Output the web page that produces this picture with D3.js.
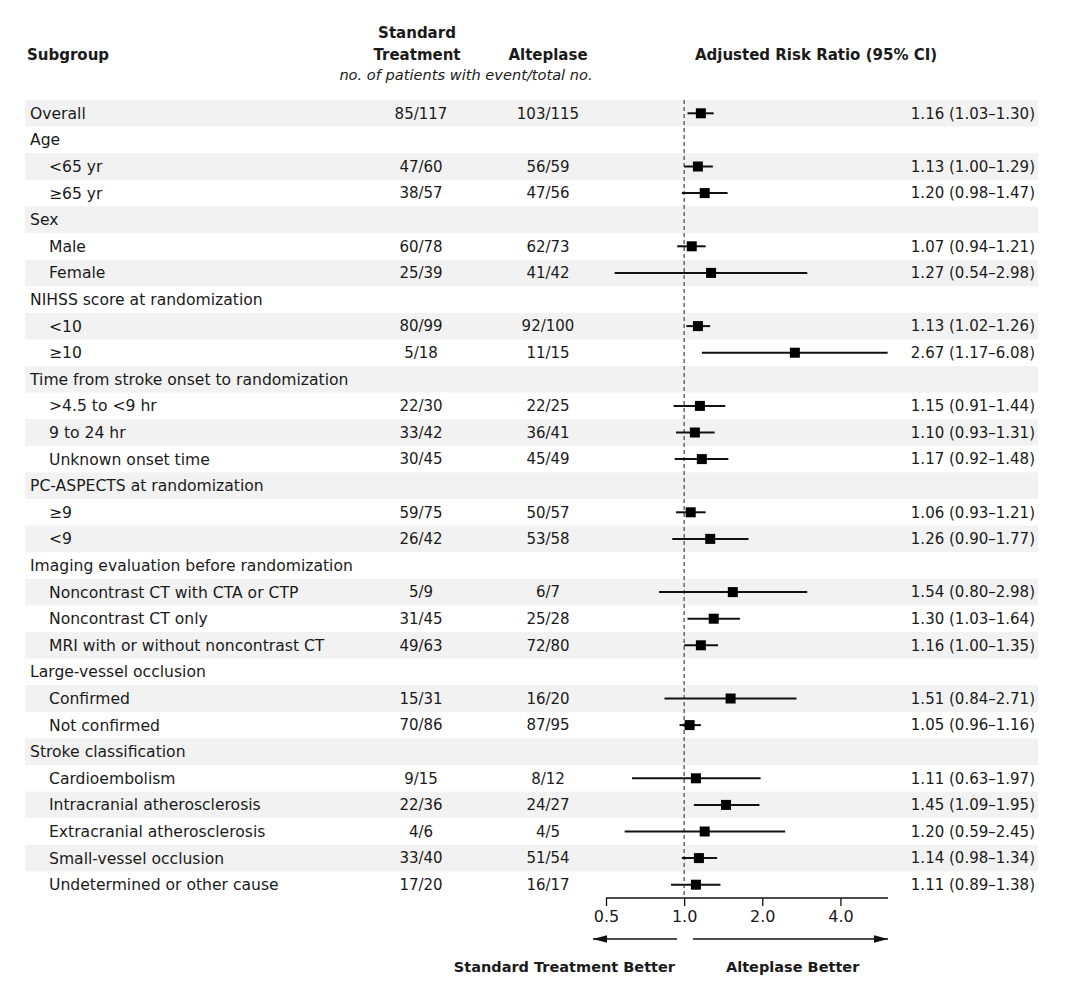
<!DOCTYPE html>
<html>
<head>
<meta charset="utf-8">
<script src="https://cdn.jsdelivr.net/npm/d3@7"></script>
<style>
  body { margin: 0; background: #fff; }
  text { font-family: "DejaVu Sans", sans-serif; fill: #1a1a1a; }
</style>
</head>
<body>
<div id="dataChart"></div>
<script>
// rows of the forest plot, top to bottom
const labels = [
    'Overall', 'Age', '<65 yr', '≥65 yr', 'Sex', 'Male', 'Female',
    'NIHSS score at randomization', '<10', '≥10',
    'Time from stroke onset to randomization', '>4.5 to <9 hr', '9 to 24 hr', 'Unknown onset time',
    'PC-ASPECTS at randomization', '≥9', '<9',
    'Imaging evaluation before randomization', 'Noncontrast CT with CTA or CTP', 'Noncontrast CT only', 'MRI with or without noncontrast CT',
    'Large-vessel occlusion', 'Confirmed', 'Not confirmed',
    'Stroke classification', 'Cardioembolism', 'Intracranial atherosclerosis', 'Extracranial atherosclerosis', 'Small-vessel occlusion', 'Undetermined or other cause'
];
const indented = [false, false, true, true, false, true, true, false, true, true, false, true, true, true,
    false, true, true, false, true, true, true, false, true, true, false, true, true, true, true, true];
const standard = ['85/117', '', '47/60', '38/57', '', '60/78', '25/39', '', '80/99', '5/18', '', '22/30', '33/42', '30/45',
    '', '59/75', '26/42', '', '5/9', '31/45', '49/63', '', '15/31', '70/86', '', '9/15', '22/36', '4/6', '33/40', '17/20'];
const alteplase = ['103/115', '', '56/59', '47/56', '', '62/73', '41/42', '', '92/100', '11/15', '', '22/25', '36/41', '45/49',
    '', '50/57', '53/58', '', '6/7', '25/28', '72/80', '', '16/20', '87/95', '', '8/12', '24/27', '4/5', '51/54', '16/17'];
const ratio = [1.16, null, 1.13, 1.20, null, 1.07, 1.27, null, 1.13, 2.67, null, 1.15, 1.10, 1.17,
    null, 1.06, 1.26, null, 1.54, 1.30, 1.16, null, 1.51, 1.05, null, 1.11, 1.45, 1.20, 1.14, 1.11];
const lower = [1.03, null, 1.00, 0.98, null, 0.94, 0.54, null, 1.02, 1.17, null, 0.91, 0.93, 0.92,
    null, 0.93, 0.90, null, 0.80, 1.03, 1.00, null, 0.84, 0.96, null, 0.63, 1.09, 0.59, 0.98, 0.89];
const upper = [1.30, null, 1.29, 1.47, null, 1.21, 2.98, null, 1.26, 6.08, null, 1.44, 1.31, 1.48,
    null, 1.21, 1.77, null, 2.98, 1.64, 1.35, null, 2.71, 1.16, null, 1.97, 1.95, 2.45, 1.34, 1.38];
const tickValues = [0.5, 1, 2, 4];
const tickLabels = ['0.5', '1.0', '2.0', '4.0'];

const fontSize = 15;
const svg = d3.select('#dataChart')
    .append('svg')
    .attr('width', 1080)
    .attr('height', 1003);

const yBand = d3.scaleBand()
    .domain(d3.range(labels.length))
    .range([100, 100 + 26.6 * labels.length]);
const xScale = d3.scaleLog()
    .domain([0.5, 6.1])
    .range([606, 888]);
const fmt = d3.format('.2f');

// shaded bands
svg.append('g')
    .selectAll('rect')
    .data(d3.range(labels.length).filter(i => i % 2 === 0))
    .enter()
    .append('rect')
    .attr('x', 25)
    .attr('width', 1013)
    .attr('y', i => yBand(i))
    .attr('height', yBand.bandwidth())
    .attr('fill', '#f2f2f2');

// header
const header = svg.append('g').style('font-weight', 'bold').style('font-size', `${fontSize}px`);
header.append('text').attr('x', 27).attr('y', 60).text('Subgroup');
header.append('text').attr('x', 417).attr('y', 38).attr('text-anchor', 'middle').text('Standard');
header.append('text').attr('x', 417).attr('y', 60).attr('text-anchor', 'middle').text('Treatment');
header.append('text').attr('x', 548).attr('y', 60).attr('text-anchor', 'middle').text('Alteplase');
header.append('text').attr('x', 816).attr('y', 60).attr('text-anchor', 'middle').text('Adjusted Risk Ratio (95% CI)');
svg.append('text')
    .attr('x', 466).attr('y', 80)
    .attr('text-anchor', 'middle')
    .style('font-style', 'italic')
    .style('font-size', '14.6px')
    .text('no. of patients with event/total no.');

// table rows
const rows = svg.append('g')
    .selectAll('g')
    .data(d3.range(labels.length))
    .enter()
    .append('g')
    .attr('transform', i => `translate(0, ${yBand(i) + yBand.bandwidth() / 2})`)
    .style('font-size', `${fontSize}px`);

rows.append('text')
    .attr('x', i => indented[i] ? 49 : 30)
    .attr('dy', '0.35em')
    .style('font-size', '15.6px')
    .text(i => labels[i]);
rows.append('text')
    .attr('x', 421)
    .attr('dy', '0.35em')
    .attr('text-anchor', 'middle')
    .text(i => standard[i]);
rows.append('text')
    .attr('x', 548)
    .attr('dy', '0.35em')
    .attr('text-anchor', 'middle')
    .text(i => alteplase[i]);
rows.append('text')
    .attr('x', 1035)
    .attr('dy', '0.35em')
    .attr('text-anchor', 'end')
    .text(i => ratio[i] == null ? '' : `${fmt(ratio[i])} (${fmt(lower[i])}\u2013${fmt(upper[i])})`);

// reference line at 1.0
const axisY = 898;
svg.append('line')
    .attr('x1', xScale(1)).attr('x2', xScale(1))
    .attr('y1', 100).attr('y2', axisY)
    .attr('stroke', '#444')
    .attr('stroke-width', 1.2)
    .attr('stroke-dasharray', '4,3');

// CI lines and squares
const estimates = d3.range(labels.length).filter(i => ratio[i] != null);
const marks = svg.append('g');
marks.selectAll('line')
    .data(estimates)
    .enter()
    .append('line')
    .attr('x1', i => xScale(lower[i]))
    .attr('x2', i => xScale(upper[i]))
    .attr('y1', i => yBand(i) + yBand.bandwidth() / 2)
    .attr('y2', i => yBand(i) + yBand.bandwidth() / 2)
    .attr('stroke', '#111')
    .attr('stroke-width', 2);
marks.selectAll('rect')
    .data(estimates)
    .enter()
    .append('rect')
    .attr('x', i => xScale(ratio[i]) - 5)
    .attr('y', i => yBand(i) + yBand.bandwidth() / 2 - 5)
    .attr('width', 10)
    .attr('height', 10)
    .attr('fill', '#000');

// axis
const axis = d3.axisBottom(xScale)
    .tickValues(tickValues)
    .tickFormat((d, i) => tickLabels[i])
    .tickSize(8)
    .tickPadding(5);
const axisG = svg.append('g')
    .attr('transform', `translate(0, ${axisY})`)
    .call(axis);
axisG.select('.domain').attr('d', `M${xScale.range()[0]},0H${xScale.range()[1]}`).attr('stroke', '#111').attr('stroke-width', 1.3);
axisG.selectAll('.tick line').attr('stroke', '#111').attr('stroke-width', 1.3);
axisG.selectAll('.tick text').style('font-family', '"DejaVu Sans", sans-serif').style('font-size', '16px').attr('fill', '#1a1a1a');

// direction arrows
svg.append('defs').append('marker')
    .attr('id', 'arrow')
    .attr('viewBox', '0 0 10 10')
    .attr('refX', 10).attr('refY', 5)
    .attr('markerWidth', 11).attr('markerHeight', 6)
    .attr('markerUnits', 'strokeWidth')
    .attr('orient', 'auto')
    .attr('preserveAspectRatio', 'none')
    .append('path')
    .attr('d', 'M0,0L10,5L0,10Z')
    .attr('fill', '#111');
const arrowY = 939;
svg.append('line')
    .attr('x1', 677).attr('x2', 593)
    .attr('y1', arrowY).attr('y2', arrowY)
    .attr('stroke', '#111').attr('stroke-width', 1.3)
    .attr('marker-end', 'url(#arrow)');
svg.append('line')
    .attr('x1', 693).attr('x2', xScale.range()[1])
    .attr('y1', arrowY).attr('y2', arrowY)
    .attr('stroke', '#111').attr('stroke-width', 1.3)
    .attr('marker-end', 'url(#arrow)');
svg.append('text')
    .attr('x', 675).attr('y', 972)
    .attr('text-anchor', 'end')
    .style('font-weight', 'bold').style('font-size', '14.5px')
    .text('Standard Treatment Better');
svg.append('text')
    .attr('x', 726).attr('y', 972)
    .style('font-weight', 'bold').style('font-size', '14.5px')
    .text('Alteplase Better');
</script>
</body>
</html>
